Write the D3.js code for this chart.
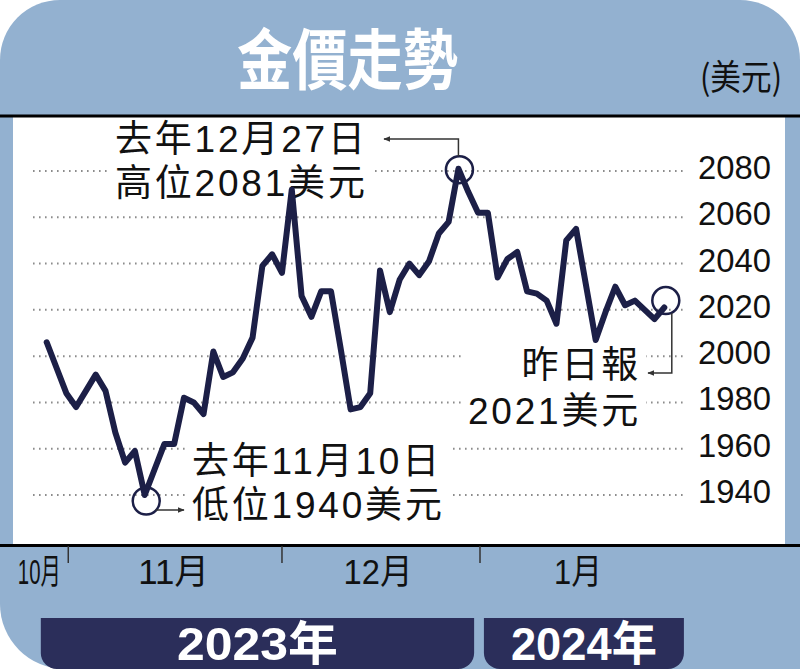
<!DOCTYPE html>
<html>
<head>
<meta charset="utf-8">
<script src="https://cdn.jsdelivr.net/npm/d3@7"></script>
<style>
  html, body { margin: 0; padding: 0; background: #fff; }
  svg { display: block; }
</style>
</head>
<body>
<div id="chart"></div>
<script>
// gold price, one value per trading day (late Oct 2023 - late Jan 2024)
const price = [
  2006, 1995, 1984, 1978, 1985, 1992, 1985, 1967, 1954, 1959,
  1940, 1951, 1962, 1962, 1982, 1980, 1975, 2002, 1991, 1993,
  1999, 2008, 2039, 2044, 2036, 2072, 2026, 2017, 2028, 2028,
  2003, 1977, 1978, 1984, 2037, 2019, 2033, 2040, 2035, 2041,
  2053, 2058, 2081, 2071, 2062, 2062, 2034, 2042, 2045, 2028,
  2027, 2024, 2014, 2050, 2055, 2031, 2007, 2019, 2030, 2022,
  2024, 2020, 2016, 2021
];
const yTicks = [1940, 1960, 1980, 2000, 2020, 2040, 2060, 2080];
const monthLabels = ["10月", "11月", "12月", "1月"];
const monthLabelAt = [-0.75, 12.95, 33.8, 54.2];
const monthTickAt = [2.2, 24, 44.2];
const years = ["2023年", "2024年"];
const yearFrom = [-0.6, 44.6];
const yearTo = [43.6, 65];

const highNote = ["去年12月27日", "高位2081美元"];
const lowNote = ["去年11月10日", "低位1940美元"];
const lastNote = ["昨日報", "2021美元"];

const W = 800, H = 669;
const navy = "#1c1f47";
const boxNavy = "#2b2e5a";
const blue = "#93b1d0";
const latin = "'Liberation Sans', 'Noto Sans CJK TC', sans-serif";
const cjk = "'Noto Sans CJK TC', 'Liberation Sans', sans-serif";

const x = d3.scaleLinear().domain([0, price.length - 1]).range([46.7, 664.3]);
const y = d3.scaleLinear().domain([1940, 2080]).range([495, 171]);

const svg = d3.select("#chart").append("svg")
    .attr("width", W)
    .attr("height", H);

const defs = svg.append("defs");
defs.append("marker")
    .attr("id", "arr")
    .attr("viewBox", "0 0 10 10")
    .attr("refX", 9).attr("refY", 5)
    .attr("markerWidth", 7).attr("markerHeight", 7)
    .attr("markerUnits", "userSpaceOnUse")
    .attr("orient", "auto")
    .append("path")
    .attr("d", "M0,1 L10,5 L0,9 Z")
    .attr("fill", "#333");

// blue card with rounded corners
svg.append("path")
    .attr("d", "M0,60 A60,60 0 0 1 60,0 H740 A60,60 0 0 1 800,60 V669 H65 A65,65 0 0 1 0,604 Z")
    .attr("fill", blue);

// white plot area
svg.append("rect")
    .attr("x", 13).attr("y", 117)
    .attr("width", 772).attr("height", 428)
    .attr("fill", "#fff");

// title
svg.append("text")
    .attr("x", 237).attr("y", 84)
    .attr("textLength", 221).attr("lengthAdjust", "spacingAndGlyphs")
    .attr("font-family", cjk)
    .attr("font-weight", "bold")
    .attr("font-size", 66)
    .attr("fill", "#fff")
    .text("金價走勢");

svg.append("text")
    .attr("x", 700).attr("y", 90)
    .attr("textLength", 82).attr("lengthAdjust", "spacingAndGlyphs")
    .attr("font-family", cjk)
    .attr("font-size", 35)
    .attr("fill", "#111")
    .text("(美元)");

// dotted grid
svg.append("g").selectAll("line")
    .data(yTicks)
    .join("line")
    .attr("x1", 33).attr("x2", 683)
    .attr("y1", d => y(d)).attr("y2", d => y(d))
    .attr("stroke", "#8c8c8c")
    .attr("stroke-width", 2)
    .attr("stroke-dasharray", "1.6 4.4");

// y labels
svg.append("g").selectAll("text")
    .data(yTicks)
    .join("text")
    .attr("x", 771)
    .attr("y", d => y(d) + 8)
    .attr("text-anchor", "end")
    .attr("textLength", 73)
    .attr("lengthAdjust", "spacingAndGlyphs")
    .attr("font-family", latin)
    .attr("font-size", 34)
    .attr("fill", "#111")
    .text(d => d);

// annotation text with white backing
function note(lines, tx, baselines, anchor) {
    const g = svg.append("g");
    const bg = g.append("rect").attr("fill", "#fff");
    const t = g.append("g");
    t.selectAll("text")
        .data(lines)
        .join("text")
        .attr("x", tx)
        .attr("y", (d, i) => baselines[i])
        .attr("text-anchor", anchor)
        .attr("font-family", latin)
        .attr("font-size", 37)
        .attr("letter-spacing", 2.8)
        .attr("fill", "#111")
        .text(d => d);
    const b = t.node().getBBox();
    bg.attr("x", b.x - 5).attr("y", b.y + 4)
      .attr("width", b.width + 10).attr("height", b.height - 4);
    return g;
}
note(highNote, 115, [152, 196], "start");
note(lowNote, 192, [474, 518], "start");
note(lastNote, 641, [378, 424], "end");

// price line
const line = d3.line()
    .x((d, i) => x(i))
    .y(d => y(d));

svg.append("path")
    .datum(price)
    .attr("d", line)
    .attr("fill", "none")
    .attr("stroke", navy)
    .attr("stroke-width", 6)
    .attr("stroke-linejoin", "round")
    .attr("stroke-linecap", "round");

// circles + arrows
const hi = d3.maxIndex(price), lo = d3.minIndex(price), last = price.length - 1;
const r = 13.5;
const hc = [x(hi) + 1, y(price[hi]) + 1];
const lc = [x(lo) + 1.5, y(price[lo]) + 6];
const ec = [x(last) + 1.5, y(price[last]) - 7];

svg.append("g").selectAll("circle")
    .data([hc, lc, ec])
    .join("circle")
    .attr("cx", d => d[0]).attr("cy", d => d[1])
    .attr("r", r)
    .attr("fill", "none")
    .attr("stroke", navy)
    .attr("stroke-width", 2.5);

const arrows = [
    `M${hc[0] - 1},${hc[1] - r} V139 H384`,
    `M${lc[0] + 9.5},${lc[1] + 9} H184`,
    `M${ec[0] + 6},${ec[1] + 12.6} V373 H648`
];
svg.append("g").selectAll("path")
    .data(arrows)
    .join("path")
    .attr("d", d => d)
    .attr("fill", "none")
    .attr("stroke", "#333")
    .attr("stroke-width", 1.5)
    .attr("marker-end", "url(#arr)");

// black rules
svg.append("line")
    .attr("x1", 0).attr("x2", W)
    .attr("y1", 116).attr("y2", 116)
    .attr("stroke", "#000").attr("stroke-width", 3);
svg.append("line")
    .attr("x1", 0).attr("x2", W)
    .attr("y1", 545.5).attr("y2", 545.5)
    .attr("stroke", "#000").attr("stroke-width", 3);

// month ticks and labels
svg.append("g").selectAll("line")
    .data(monthTickAt)
    .join("line")
    .attr("x1", d => x(d)).attr("x2", d => x(d))
    .attr("y1", 546).attr("y2", 563)
    .attr("stroke", "#333")
    .attr("stroke-width", 1.5);

const monthWidth = [43, 71, 69, 48];
svg.append("g").selectAll("text")
    .data(monthLabels)
    .join("text")
    .attr("x", (d, i) => x(monthLabelAt[i]) - monthWidth[i] / 2)
    .attr("y", 584)
    .attr("textLength", (d, i) => monthWidth[i])
    .attr("lengthAdjust", "spacingAndGlyphs")
    .attr("font-family", latin)
    .attr("font-size", 35)
    .attr("fill", "#111")
    .text(d => d);

// year boxes
const yearRound = 16;
const yg = svg.append("g");
years.forEach((yr, i) => {
    const x0 = x(yearFrom[i]), x1 = x(yearTo[i]);
    const top = 618, bot = 669;
    yg.append("path")
        .attr("d", `M${x0},${top} H${x1} V${bot - yearRound} A${yearRound},${yearRound} 0 0 1 ${x1 - yearRound},${bot} H${x0 + yearRound} A${yearRound},${yearRound} 0 0 1 ${x0},${bot - yearRound} Z`)
        .attr("fill", boxNavy);
    const tw = i === 0 ? 161 : 146;
    yg.append("text")
        .attr("x", (x0 + x1) / 2 - tw / 2)
        .attr("y", 660)
        .attr("textLength", tw)
        .attr("lengthAdjust", "spacingAndGlyphs")
        .attr("font-family", latin)
        .attr("font-weight", "bold")
        .attr("font-size", 47)
        .attr("fill", "#fff")
        .text(yr);
});
</script>
</body>
</html>
